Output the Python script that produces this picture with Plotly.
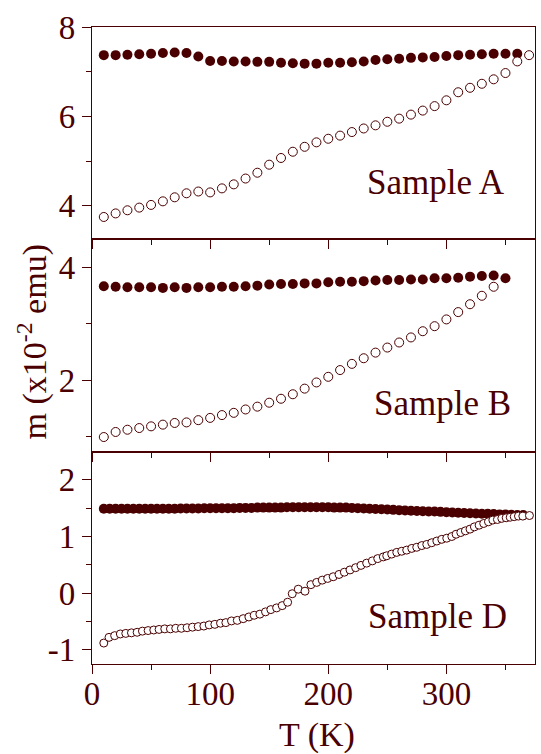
import plotly.graph_objects as go

MAROON = "#4a0000"
FONT = "Liberation Serif, Times New Roman, serif"

# ---- Sample A ----
t_a_fc = [10, 20, 30, 40, 50, 60, 70, 80, 90, 100, 110, 120, 130, 140, 150, 160, 170, 180,
          190, 200, 210, 220, 230, 240, 250, 260, 270, 280, 290, 300, 310, 320, 330, 340, 350, 360]
m_a_fc = [7.37, 7.37, 7.38, 7.39, 7.40, 7.42, 7.43, 7.42, 7.34, 7.24, 7.24, 7.23, 7.23, 7.22,
          7.22, 7.20, 7.19, 7.18, 7.18, 7.20, 7.20, 7.21, 7.23, 7.26, 7.28, 7.29, 7.31, 7.32,
          7.33, 7.35, 7.37, 7.38, 7.39, 7.40, 7.40, 7.40]
t_a_zfc = [10, 20, 30, 40, 50, 60, 70, 80, 90, 100, 110, 120, 130, 140, 150, 160, 170, 180, 190,
           200, 210, 220, 230, 240, 250, 260, 270, 280, 290, 300, 310, 320, 330, 340, 350, 360, 370]
m_a_zfc = [3.75, 3.83, 3.90, 3.96, 4.02, 4.10, 4.19, 4.28, 4.32, 4.30, 4.39, 4.48, 4.61, 4.74,
           4.92, 5.07, 5.21, 5.32, 5.42, 5.50, 5.57, 5.65, 5.73, 5.80, 5.88, 5.95, 6.04, 6.13,
           6.23, 6.36, 6.54, 6.64, 6.73, 6.83, 6.97, 7.23, 7.37]

# ---- Sample B ----
t_b_fc = [10, 20, 30, 40, 50, 60, 70, 80, 90, 100, 110, 120, 130, 140, 150, 160, 170, 180,
          190, 200, 210, 220, 230, 240, 250, 260, 270, 280, 290, 300, 310, 320, 330, 340, 350]
m_b_fc = [3.67, 3.66, 3.65, 3.65, 3.65, 3.64, 3.65, 3.64, 3.65, 3.65, 3.66, 3.66, 3.67, 3.68,
          3.70, 3.71, 3.71, 3.72, 3.72, 3.74, 3.75, 3.75, 3.76, 3.77, 3.78, 3.78, 3.79, 3.79,
          3.81, 3.81, 3.82, 3.84, 3.85, 3.86, 3.81]
t_b_zfc = [10, 20, 30, 40, 50, 60, 70, 80, 90, 100, 110, 120, 130, 140, 150, 160, 170, 180,
           190, 200, 210, 220, 230, 240, 250, 260, 270, 280, 290, 300, 310, 320, 330, 340]
m_b_zfc = [0.99, 1.08, 1.12, 1.15, 1.18, 1.21, 1.24, 1.25, 1.29, 1.33, 1.38, 1.42, 1.48, 1.53,
           1.60, 1.67, 1.75, 1.85, 1.96, 2.06, 2.18, 2.29, 2.39, 2.49, 2.58, 2.67, 2.76, 2.87,
           2.96, 3.08, 3.21, 3.35, 3.50, 3.66]

# ---- Sample D ----
t_d_fc = [10, 15, 20, 25, 30, 35, 40, 45, 50, 55, 60, 65, 70, 75, 80, 85, 90, 95, 100, 105,
          110, 115, 120, 125, 130, 135, 140, 145, 150, 155, 160, 165, 170, 175, 180, 185, 190,
          195, 200, 205, 210, 215, 220, 225, 230, 235, 240, 245, 250, 255, 260, 265, 270, 275,
          280, 285, 290, 295, 300, 305, 310, 315, 320, 325, 330, 335, 340, 345, 350, 355, 360, 365]
m_d_fc = [1.49, 1.49, 1.49, 1.49, 1.49, 1.49, 1.49, 1.49, 1.49, 1.49, 1.49, 1.49, 1.49, 1.495,
          1.495, 1.495, 1.495, 1.50, 1.50, 1.50, 1.50, 1.50, 1.50, 1.505, 1.505, 1.505, 1.51,
          1.51, 1.51, 1.51, 1.51, 1.515, 1.515, 1.515, 1.515, 1.515, 1.515, 1.515, 1.515, 1.51,
          1.51, 1.51, 1.505, 1.50, 1.495, 1.49, 1.485, 1.48, 1.475, 1.47, 1.465, 1.46, 1.455,
          1.45, 1.445, 1.44, 1.44, 1.435, 1.43, 1.425, 1.42, 1.415, 1.41, 1.405, 1.40, 1.40,
          1.395, 1.39, 1.39, 1.385, 1.38, 1.38]
t_d_zfc = [10, 14.4, 19.2, 24, 28.6, 33.4, 38.2, 42.7, 47.5, 52.3, 56.8, 61.6, 66.4, 70.9, 75.7,
           80.5, 85.1, 89.9, 94.7, 99.2, 104, 108.8, 113.3, 118.1, 123,
           128, 132.8, 137.3, 142.1, 146.9, 151.4, 156.3, 161, 165.6, 169.5, 174.6, 180.3, 185.3,
           190.2, 194.9, 199.5, 204.2, 209.1, 213.6, 218.4, 223.2, 227.7, 232.5, 237.3, 241.9, 246.6,
           249.5, 253.7, 258, 262.2, 266.4, 270.7, 274.9, 279.2, 283.4, 287.6, 291.9, 296.1, 300.3,
           304.6, 308.2, 312.2, 316.1, 320, 323.7, 327.7, 331.6, 335.6, 339.3, 343.2, 346.9, 350.6,
           354, 357.4, 361, 364.7, 370.3]
m_d_zfc = [-0.88, -0.78, -0.75, -0.72, -0.71, -0.70, -0.69, -0.67, -0.66, -0.65, -0.64, -0.63,
           -0.63, -0.62, -0.62, -0.61, -0.60, -0.59, -0.58, -0.56, -0.55, -0.53, -0.52, -0.49, -0.48,
           -0.45, -0.42, -0.39, -0.37, -0.33, -0.29, -0.26, -0.22, -0.16, -0.01, 0.07, 0.035, 0.15,
           0.19, 0.23, 0.26, 0.29, 0.33, 0.37, 0.41, 0.45, 0.49, 0.53, 0.57, 0.61, 0.64,
           0.66, 0.69, 0.72, 0.74, 0.76, 0.79, 0.81, 0.84, 0.86, 0.89, 0.92, 0.95, 0.97,
           1.00, 1.04, 1.07, 1.10, 1.13, 1.17, 1.20, 1.23, 1.26, 1.29, 1.30, 1.32, 1.33,
           1.34, 1.35, 1.36, 1.36, 1.37]

# tick labels of the lower panel, written with a plain hyphen
d_tickvals = [-1, 0, 1, 2]
d_ticktext = ["-1", "0", "1", "2"]

panels = [
    # (x axis, y axis, fc T, fc m, zfc T, zfc m, fc size, zfc size, label)
    ("x", "y", t_a_fc, m_a_fc, t_a_zfc, m_a_zfc, 10, 9, "Sample A"),
    ("x2", "y2", t_b_fc, m_b_fc, t_b_zfc, m_b_zfc, 10, 9, "Sample B"),
    ("x3", "y3", t_d_fc, m_d_fc, t_d_zfc, m_d_zfc, 10, 8, "Sample D"),
]

fig = go.Figure()
for xa, ya, tf, mf, tz, mz, sf, sz, _ in panels:
    fig.add_trace(go.Scatter(x=tf, y=mf, xaxis=xa, yaxis=ya, mode="markers",
                             marker=dict(symbol="circle", size=sf, color=MAROON,
                                         line=dict(width=0)),
                             showlegend=False, hoverinfo="skip"))
    fig.add_trace(go.Scatter(x=tz, y=mz, xaxis=xa, yaxis=ya, mode="markers",
                             marker=dict(symbol="circle", size=sz, color="white",
                                         line=dict(width=1, color=MAROON)),
                             showlegend=False, hoverinfo="skip"))

tick_font = dict(family=FONT, size=33, color=MAROON)

def x_axis(anchor, labels):
    return dict(anchor=anchor, domain=[0, 1], range=[0, 375], dtick=100, tick0=0,
                ticks="outside", ticklen=9, tickwidth=1.2, tickcolor=MAROON,
                showticklabels=labels, tickfont=tick_font, ticklabelstandoff=-9,
                minor=dict(dtick=50, tick0=0, ticks="outside", ticklen=5,
                           tickwidth=1.2, tickcolor=MAROON, showgrid=False),
                showline=True, linecolor=MAROON, linewidth=1.2, mirror=True,
                showgrid=False, zeroline=False)

def y_axis(anchor, domain, rng, dtick, minor_dtick, tick0):
    return dict(anchor=anchor, domain=domain, range=rng, dtick=dtick, tick0=tick0,
                ticks="outside", ticklen=9, tickwidth=1.2, tickcolor=MAROON,
                tickfont=tick_font,
                minor=dict(dtick=minor_dtick, tick0=tick0, ticks="outside", ticklen=5,
                           tickwidth=1.2, tickcolor=MAROON, showgrid=False),
                showline=True, linecolor=MAROON, linewidth=1.2, mirror=True,
                showgrid=False, zeroline=False)

yaxis3 = y_axis("x3", [0, 1 / 3], [-1.25, 2.497], 1, 0.5, 0)
yaxis3.update(tickmode="array", tickvals=d_tickvals, ticktext=d_ticktext)

fig.update_layout(
    width=541, height=754,
    margin=dict(l=92, r=6, t=27, b=90),
    paper_bgcolor="white", plot_bgcolor="white",
    font=dict(family=FONT, color=MAROON),
    xaxis=x_axis("y", False),
    xaxis2=x_axis("y2", False),
    xaxis3=x_axis("y3", True),
    yaxis=y_axis("x", [2 / 3, 1], [3.25, 8.0], 2, 1, 0),
    yaxis2=y_axis("x2", [1 / 3, 2 / 3], [0.73, 4.503], 2, 1, 0),
    yaxis3=yaxis3,
)

label_pos = {"Sample A": ("y domain", 0.936, 0.27),
             "Sample B": ("y2 domain", 0.950, 0.228),
             "Sample D": ("y3 domain", 0.942, 0.222)}
for *_, label in panels:
    yref, xp, yp = label_pos[label]
    fig.add_annotation(text=label, xref="paper", yref=yref, x=xp, y=yp,
                       xanchor="right", yanchor="middle", showarrow=False,
                       font=dict(family=FONT, size=35, color=MAROON))

fig.add_annotation(text="m (x10<sup>-2</sup> emu)", xref="paper", yref="paper",
                   x=-0.135, y=0.505, textangle=-90, xanchor="center", yanchor="middle",
                   showarrow=False, font=dict(family=FONT, size=34, color=MAROON))
fig.add_annotation(text="T (K)", xref="paper", yref="paper", x=0.508, y=-0.112,
                   xanchor="center", yanchor="middle", showarrow=False,
                   font=dict(family=FONT, size=34, color=MAROON))

fig.write_html("out.html")
